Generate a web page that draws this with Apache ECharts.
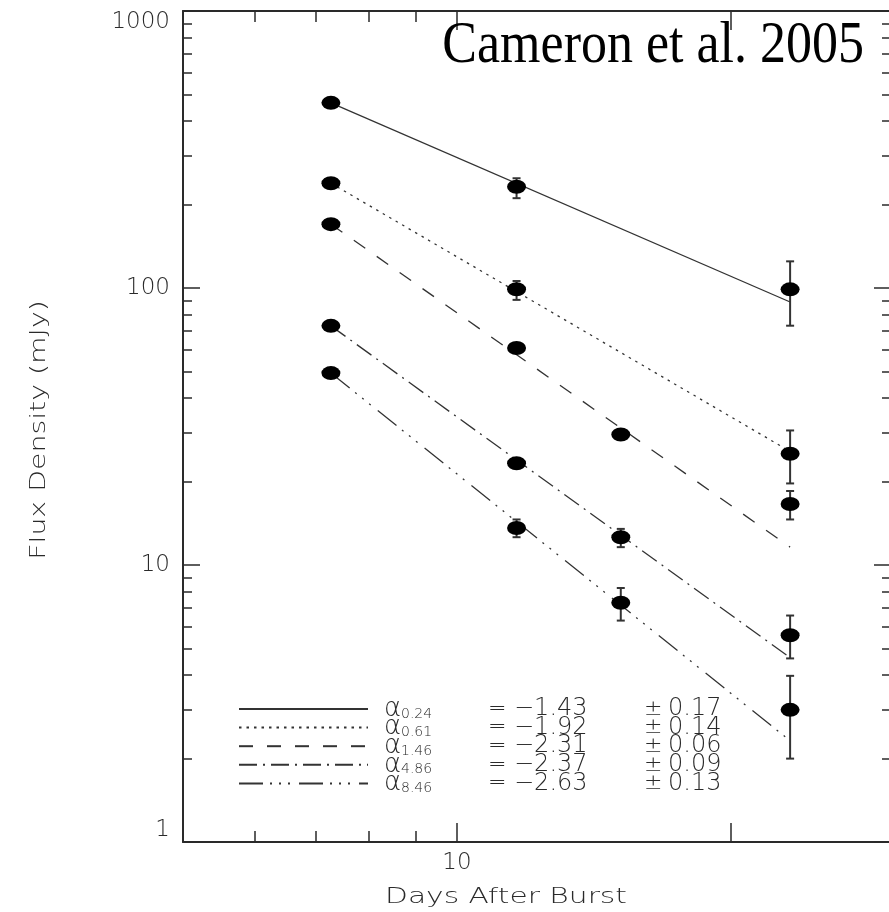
<!DOCTYPE html>
<html><head><meta charset="utf-8">
<script src="https://cdn.jsdelivr.net/npm/echarts@6/dist/echarts.min.js"></script>
<style>html,body{margin:0;padding:0;background:#fff}#c{width:889px;height:912px}</style>
</head><body><div id="c"></div>
<script>
// ---------- data ----------
const days = [7.27, 11.63, 15.14, 23.24];
const freqLabels = ['0.24', '0.61', '1.46', '4.86', '8.46'];
const alphaValues = ['−1.43', '−1.92', '−2.31', '−2.37', '−2.63'];
const alphaErrors = ['0.17', '0.14', '0.06', '0.09', '0.13'];

// flux density (mJy) at each epoch, null = not observed
const flux024 = [466, 232, null, 98.9];
const flux061 = [239, 99, null, 25.2];
const flux146 = [170, 60.7, 29.6, 16.6];
const flux486 = [73, 23.3, 12.6, 5.58];
const flux846 = [49.3, 13.6, 7.31, 3.0];

// error bar limits
const low024 = [452, 211, null, 73.1];
const high024 = [480, 249, null, 124.8];
const low061 = [233, 90.6, null, 19.7];
const high061 = [245, 106, null, 30.6];
const low146 = [166, 58.5, 28.6, 14.6];
const high146 = [174, 63, 30.6, 18.5];
const low486 = [71.5, 22.5, 11.6, 4.6];
const high486 = [74.5, 24.1, 13.5, 6.57];
const low846 = [48.2, 12.6, 6.3, 2.0];
const high846 = [50.4, 14.6, 8.26, 3.98];

// power-law fit lines: values at first and last epoch
const fitDays = [7.27, 23.24];
const fitStart = [466, 239, 170, 73, 49.3];
const fitEnd = [89, 25.7, 11.6, 4.63, 2.32];

// axis ticks
const xTickMajor = [10, 20];
const xTickMinor = [6, 7, 8, 9];
const xTickLabels = [10];
const yTickMajor = [1, 10, 100, 1000];
const yTickMinor = [2, 3, 4, 5, 6, 7, 8, 9, 20, 30, 40, 50, 60, 70, 80, 90, 200, 300, 400, 500, 600, 700, 800, 900];

// ---------- chart ----------
const fluxes = [flux024, flux061, flux146, flux486, flux846];
const lows = [low024, low061, low146, low486, low846];
const highs = [high024, high061, high146, high486, high846];
const dashTypes = ['solid', [2.5, 5], [14, 14], [18, 6, 2, 6], [24, 7, 2, 7, 2, 7, 2, 9]];

const INK = '#2a2a2a';
const FONT = '"DejaVu Sans", sans-serif';

function mkX(pos, ticks, len, showLine, labels) {
  return {
    type: 'log', logBase: 10, min: 5, max: 30, position: pos,
    axisLine: { show: showLine, lineStyle: { color: INK, width: 2 } },
    axisTick: { show: true, inside: true, length: len, customValues: ticks, lineStyle: { color: INK, width: 1.5 } },
    axisLabel: labels ? { show: true, customValues: labels, margin: 10, color: INK, fontFamily: FONT, fontWeight: 200, fontSize: 23,
      formatter: v => String(Math.round(v)) } : { show: false },
    splitLine: { show: false }, minorTick: { show: false }
  };
}
function mkY(pos, ticks, len, showLine, labels) {
  return {
    type: 'log', logBase: 10, min: 1, max: 1000, position: pos,
    axisLine: { show: showLine, lineStyle: { color: INK, width: 2 } },
    axisTick: { show: true, inside: true, length: len, customValues: ticks, lineStyle: { color: INK, width: 1.5 } },
    axisLabel: labels ? { show: true, customValues: labels, margin: 13, color: INK, fontFamily: FONT, fontWeight: 200, fontSize: 23,
      verticalAlignMinLabel: 'bottom', verticalAlignMaxLabel: 'top',
      formatter: v => String(Math.round(v)) } : { show: false },
    splitLine: { show: false }, minorTick: { show: false }
  };
}

const series = [];
freqLabels.forEach((f, i) => {
  series.push({
    name: 'α' + f, type: 'line', symbol: 'none', silent: true, z: 2,
    data: [[fitDays[0], fitStart[i]], [fitDays[1], fitEnd[i]]],
    itemStyle: { color: '#333', opacity: 0 },
    lineStyle: { color: '#333', width: 1.3, type: dashTypes[i] }
  });
});
freqLabels.forEach((f, i) => {
  const eb = [];
  days.forEach((d, k) => { if (fluxes[i][k] != null) eb.push([d, lows[i][k], highs[i][k]]); });
  series.push({
    type: 'custom', silent: true, z: 3,
    encode: { x: 0, y: [1, 2] },
    data: eb,
    renderItem: function (params, api) {
      const x = api.value(0);
      const a = api.coord([x, api.value(1)]);
      const b = api.coord([x, api.value(2)]);
      const cw = 4;
      const st = { stroke: '#333', lineWidth: 2 };
      return { type: 'group', children: [
        { type: 'line', shape: { x1: a[0], y1: a[1], x2: b[0], y2: b[1] }, style: st },
        { type: 'line', shape: { x1: a[0] - cw, y1: a[1], x2: a[0] + cw, y2: a[1] }, style: st },
        { type: 'line', shape: { x1: b[0] - cw, y1: b[1], x2: b[0] + cw, y2: b[1] }, style: st }
      ]};
    }
  });
});
freqLabels.forEach((f, i) => {
  const pts = [];
  days.forEach((d, k) => { if (fluxes[i][k] != null) pts.push([d, fluxes[i][k]]); });
  series.push({
    type: 'scatter', silent: true, z: 4, symbol: 'circle', symbolSize: [19, 14],
    itemStyle: { color: '#000', opacity: 1 }, data: pts
  });
});

const chart = echarts.init(document.getElementById('c'), null, { renderer: 'canvas' });
chart.setOption({
  animation: false,
  backgroundColor: '#fff',
  grid: { left: 183, right: -2, top: 11, bottom: 70, containLabel: false, outerBoundsMode: 'none' },
  xAxis: [
    mkX('bottom', xTickMajor, 19, true, xTickLabels),
    mkX('bottom', xTickMinor, 11, false, null),
    mkX('top', xTickMajor, 19, true, null),
    mkX('top', xTickMinor, 11, false, null)
  ],
  yAxis: [
    mkY('left', yTickMajor, 17, true, yTickMajor),
    mkY('left', yTickMinor, 9, false, null),
    mkY('right', yTickMajor, 17, true, null),
    mkY('right', yTickMinor, 9, false, null)
  ],
  legend: {
    data: freqLabels.map(f => 'α' + f),
    orient: 'vertical', left: 238, top: 696,
    itemWidth: 129, itemHeight: 12, itemGap: -7.4,
    selectedMode: false, padding: 0,
    itemStyle: { opacity: 0 },
    formatter: function (name) {
      const i = freqLabels.indexOf(name.slice(1));
      return '{a|α}{s|' + freqLabels[i] + '}{e|=}{v|' + alphaValues[i] + '}{p|±}{u|' + alphaErrors[i] + '}';
    },
    textStyle: {
      color: INK, fontFamily: FONT, fontWeight: 200, fontSize: 22, padding: [0, 0, 0, 11],
      rich: {
        a: { fontFamily: FONT, fontSize: 26, fontWeight: 200, color: INK, width: 17, lineHeight: 24 },
        s: { fontFamily: FONT, fontSize: 14, fontWeight: 200, color: INK, width: 87, lineHeight: 24, verticalAlign: 'bottom' },
        e: { fontFamily: FONT, fontSize: 22, fontWeight: 200, color: INK, width: 26, lineHeight: 24 },
        v: { fontFamily: FONT, fontSize: 24, fontWeight: 200, color: INK, width: 130, lineHeight: 24 },
        p: { fontFamily: FONT, fontSize: 22, fontWeight: 200, color: INK, width: 24, lineHeight: 24 },
        u: { fontFamily: FONT, fontSize: 24, fontWeight: 200, color: INK, lineHeight: 24 }
      }
    }
  },
  graphic: [
    { type: 'text', x: 864, y: 46, scaleY: 1.15, z: 10,
      style: { text: 'Cameron et al. 2005', font: '52px "Liberation Serif", "Times New Roman", serif', fill: '#000', align: 'right', verticalAlign: 'middle' } },
    { type: 'text', x: 506, y: 897, scaleX: 1.35, z: 10,
      style: { text: 'Days After Burst', font: '200 22px "DejaVu Sans", sans-serif', fill: INK, align: 'center', verticalAlign: 'middle' } },
    { type: 'text', x: 40, y: 430, rotation: Math.PI / 2, scaleX: 1.35, z: 10,
      style: { text: 'Flux Density (mJy)', font: '200 21px "DejaVu Sans", sans-serif', fill: INK, align: 'center', verticalAlign: 'middle' } }
  ],
  series: series
});
</script>
</body></html>
